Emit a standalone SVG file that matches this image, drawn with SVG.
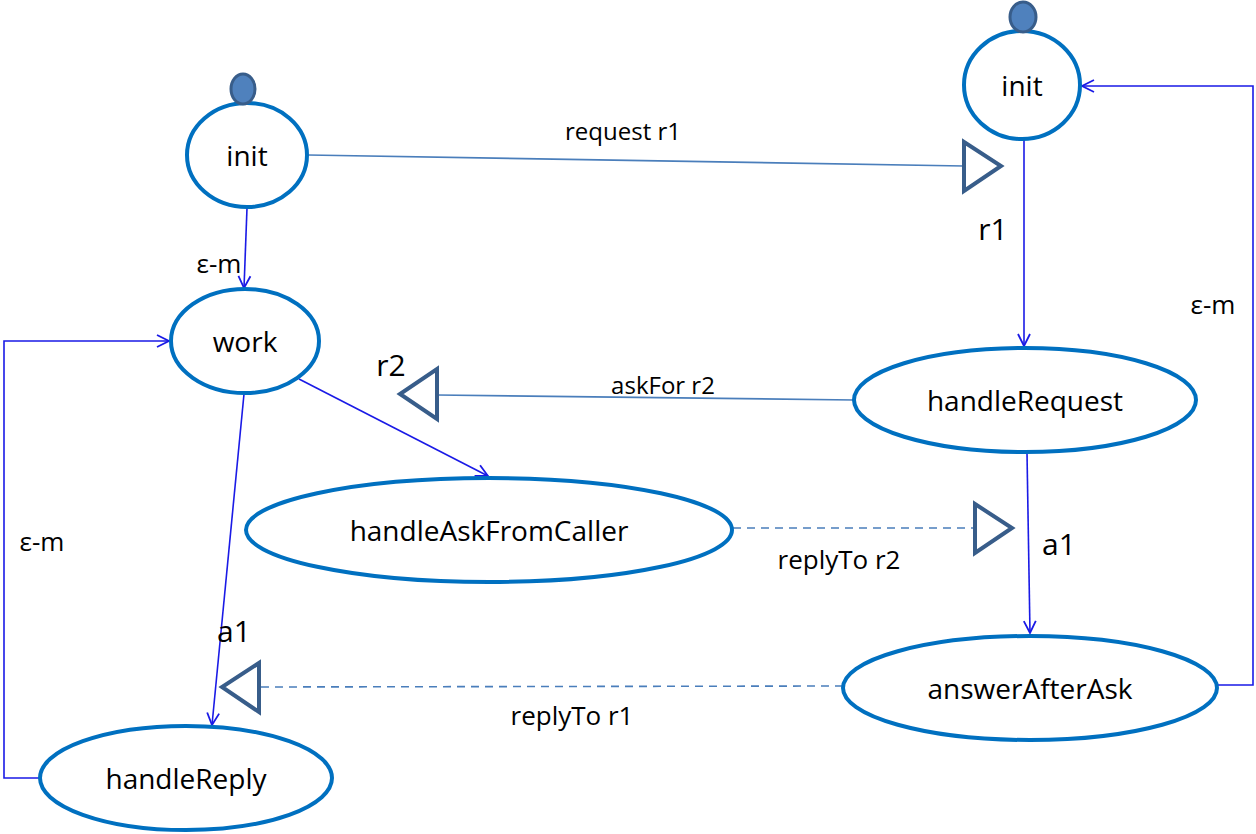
<svg xmlns="http://www.w3.org/2000/svg" width="1256" height="834" viewBox="0 0 1256 834">
<defs>
<marker id="arr" markerUnits="userSpaceOnUse" markerWidth="16" markerHeight="16" viewBox="-14 -8 16 16" refX="0" refY="0" orient="auto" overflow="visible">
<path d="M-12,-6 L0,0 L-12,6" fill="none" stroke="#1a1ae6" stroke-width="1.8"/>
</marker>
</defs>
<style>
.st{fill:#fff;stroke:#0070c0;stroke-width:4}
.dot{fill:#4f81bd;stroke:#385d8a;stroke-width:3}
.tri{fill:#fff;stroke:#385d8a;stroke-width:4;stroke-linejoin:miter}
.tr{fill:none;stroke:#1a1ae6;stroke-width:1.6}
.msg{fill:none;stroke:#4a7ebb;stroke-width:1.6}
.dash{fill:none;stroke:#4a7ebb;stroke-width:1.6;stroke-dasharray:8 6}
text{font-family:"Open Sans","Noto Sans",sans-serif;fill:#000}
.nl{font-size:28px;text-anchor:middle}
.el{font-size:24px;text-anchor:middle}
.el2{font-size:26px;text-anchor:middle}
.bl{font-size:30px;text-anchor:middle}
</style>
<rect width="1256" height="834" fill="#fff"/>
<g id="connectors">
<line class="msg" x1="308" y1="155" x2="964" y2="166"/>
<line class="msg" x1="854" y1="400" x2="437" y2="395"/>
<line class="dash" x1="733" y1="528" x2="974" y2="528"/>
<line class="dash" x1="843" y1="686" x2="259" y2="687"/>
<line class="tr" x1="247" y1="208" x2="244" y2="288" marker-end="url(#arr)"/>
<line class="tr" x1="1024" y1="140" x2="1024" y2="346" marker-end="url(#arr)"/>
<line class="tr" x1="1027" y1="453" x2="1030" y2="633" marker-end="url(#arr)"/>
<line class="tr" x1="299" y1="379" x2="488" y2="476" marker-end="url(#arr)"/>
<line class="tr" x1="244" y1="394" x2="212" y2="725" marker-end="url(#arr)"/>
<polyline class="tr" points="40,778 4,778 4,341 169,341" marker-end="url(#arr)"/>
<polyline class="tr" points="1217,685 1253,685 1253,86 1082,86" marker-end="url(#arr)"/>
<polygon class="tri" points="964,142 964,191 1001,166"/>
<polygon class="tri" points="437,369 437,419 400,394"/>
<polygon class="tri" points="975,504 975,553 1012,528"/>
<polygon class="tri" points="259,663 259,712 222,687"/>
<text class="el" x="623" y="140">request r1</text>
<text class="el2" x="219" y="273">ε-m</text>
<text class="el2" x="42" y="551">ε-m</text>
<text class="el2" x="1213" y="314">ε-m</text>
<text class="bl" x="993" y="240">r1</text>
<text class="bl" x="391" y="376">r2</text>
<text class="el" x="663" y="394">askFor r2</text>
<text class="bl" x="1059" y="555">a1</text>
<text class="el2" x="839" y="569">replyTo r2</text>
<text class="bl" x="234" y="642">a1</text>
<text class="el2" x="572" y="725">replyTo r1</text>
</g>
<g id="init1">
<ellipse class="st" cx="247" cy="155" rx="60" ry="52"/>
<ellipse class="dot" cx="243" cy="89" rx="12" ry="15"/>
<text class="nl" x="247" y="166">init</text>
</g>
<g id="init2">
<ellipse class="st" cx="1022" cy="85" rx="58" ry="54"/>
<ellipse class="dot" cx="1023" cy="17" rx="13" ry="15"/>
<text class="nl" x="1022" y="96">init</text>
</g>
<g id="work">
<ellipse class="st" cx="245" cy="341" rx="74" ry="52"/>
<text class="nl" x="245" y="352">work</text>
</g>
<g id="handleAskFromCaller">
<ellipse class="st" cx="489" cy="530" rx="243" ry="52"/>
<text class="nl" x="489" y="541">handleAskFromCaller</text>
</g>
<g id="handleRequest">
<ellipse class="st" cx="1025" cy="400" rx="171" ry="52"/>
<text class="nl" x="1025" y="411">handleRequest</text>
</g>
<g id="answerAfterAsk">
<ellipse class="st" cx="1030" cy="688" rx="187" ry="52"/>
<text class="nl" x="1030" y="699">answerAfterAsk</text>
</g>
<g id="handleReply">
<ellipse class="st" cx="186" cy="778" rx="146" ry="52"/>
<text class="nl" x="186" y="789">handleReply</text>
</g>
</svg>
